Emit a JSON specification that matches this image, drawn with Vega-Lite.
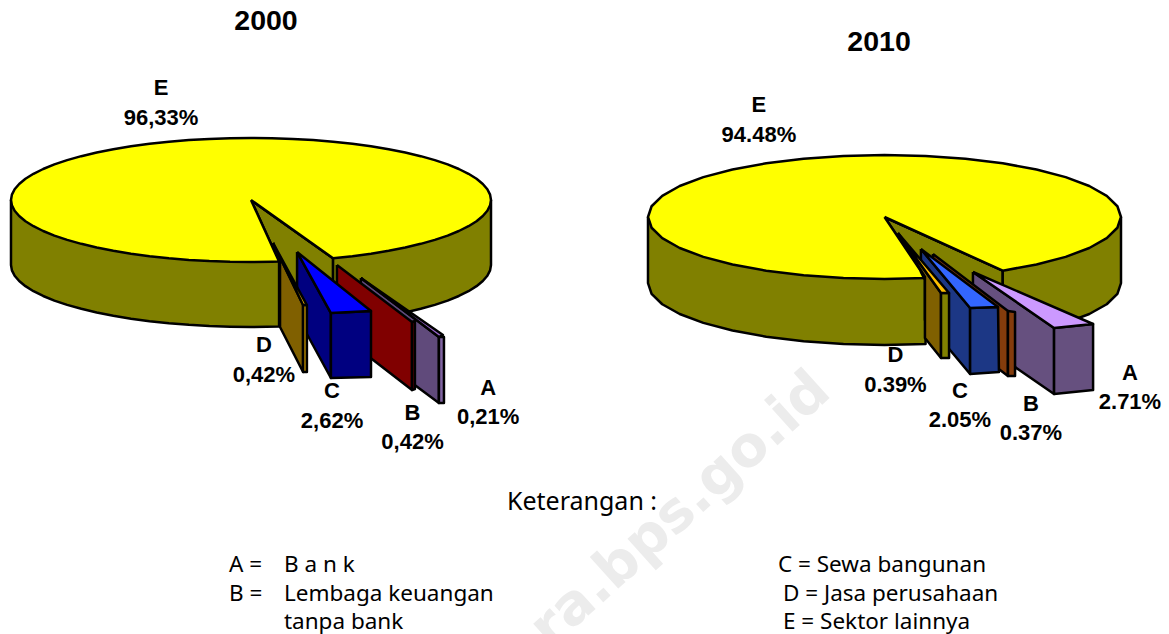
{"$schema":"https://vega.github.io/schema/vega-lite/v6.json","width":1169,"height":634,"padding":0,"autosize":{"type":"none"},"background":"white","view":{"stroke":null},"resolve":{"scale":{"x":"independent","y":"independent","color":"independent","size":"independent"}},"layer":[
{"data":{"values":[{"t":"ra.bps.go.id","x":58.2,"y":80.4}]},"mark":{"type":"text","font":"DejaVu Sans","fontWeight":"bold","fontSize":56,"angle":318,"color":"#ececec","align":"center","baseline":"middle"},"encoding":{"x":{"field":"x","type":"quantitative","scale":{"domain":[0,100]},"axis":null},"y":{"field":"y","type":"quantitative","scale":{"domain":[100,0]},"axis":null},"text":{"field":"t"}}},
{"data":{"values":[{"t":"Keterangan :","x":43.37,"y":79.18,"size":"head"},{"t":"A =","x":19.59,"y":89.12,"size":"line"},{"t":"B a n k","x":24.29,"y":89.12,"size":"line"},{"t":"B =","x":19.59,"y":93.69,"size":"line"},{"t":"Lembaga keuangan","x":24.29,"y":93.69,"size":"line"},{"t":"tanpa bank","x":24.29,"y":98.11,"size":"line"},{"t":"C = Sewa bangunan","x":66.55,"y":89.12,"size":"line"},{"t":"D = Jasa perusahaan","x":66.98,"y":93.69,"size":"line"},{"t":"E = Sektor lainnya","x":66.98,"y":98.11,"size":"line"}]},"mark":{"type":"text","font":"Noto Sans","color":"black","align":"left","baseline":"middle"},"encoding":{"x":{"field":"x","type":"quantitative","scale":{"domain":[0,100]},"axis":null},"y":{"field":"y","type":"quantitative","scale":{"domain":[100,0]},"axis":null},"text":{"field":"t"},"size":{"field":"size","type":"nominal","legend":null,"scale":{"domain":["head","line"],"range":[25,22.5]}}}},
{"data":{"values":[
{"p":"E inner","x":0,"y":0},{"p":"E inner","x":0.342,"y":-0.94},{"p":"E inner","x":0.342,"y":-1.988},{"p":"E inner","x":0,"y":-1.048},{"p":"E inner","x":0,"y":0},
{"p":"E wall L","x":-1,"y":0},{"p":"E wall L","x":-1,"y":-1.048},{"p":"E wall L","x":-0.9962,"y":-1.135},{"p":"E wall L","x":-0.9848,"y":-1.222},{"p":"E wall L","x":-0.9659,"y":-1.307},{"p":"E wall L","x":-0.9397,"y":-1.39},{"p":"E wall L","x":-0.9063,"y":-1.471},{"p":"E wall L","x":-0.866,"y":-1.548},{"p":"E wall L","x":-0.8192,"y":-1.622},{"p":"E wall L","x":-0.766,"y":-1.691},{"p":"E wall L","x":-0.7071,"y":-1.755},{"p":"E wall L","x":-0.6428,"y":-1.814},{"p":"E wall L","x":-0.5736,"y":-1.867},{"p":"E wall L","x":-0.5,"y":-1.914},{"p":"E wall L","x":-0.4226,"y":-1.954},{"p":"E wall L","x":-0.342,"y":-1.988},{"p":"E wall L","x":-0.2588,"y":-2.014},{"p":"E wall L","x":-0.1736,"y":-2.033},{"p":"E wall L","x":-0.0872,"y":-2.044},{"p":"E wall L","x":0,"y":-2.048},{"p":"E wall L","x":0.117,"y":-2.041},{"p":"E wall L","x":0.117,"y":-0.993},{"p":"E wall L","x":0,"y":0},{"p":"E wall L","x":-1,"y":0},
{"p":"E wall R","x":1,"y":0},{"p":"E wall R","x":1,"y":-1.048},{"p":"E wall R","x":0.9962,"y":-1.135},{"p":"E wall R","x":0.9848,"y":-1.222},{"p":"E wall R","x":0.9659,"y":-1.307},{"p":"E wall R","x":0.9397,"y":-1.39},{"p":"E wall R","x":0.9063,"y":-1.471},{"p":"E wall R","x":0.866,"y":-1.548},{"p":"E wall R","x":0.8192,"y":-1.622},{"p":"E wall R","x":0.766,"y":-1.691},{"p":"E wall R","x":0.7071,"y":-1.755},{"p":"E wall R","x":0.6428,"y":-1.814},{"p":"E wall R","x":0.5736,"y":-1.867},{"p":"E wall R","x":0.5,"y":-1.914},{"p":"E wall R","x":0.4226,"y":-1.954},{"p":"E wall R","x":0.342,"y":-1.988},{"p":"E wall R","x":0.342,"y":-0.94},{"p":"E wall R","x":0,"y":0},{"p":"E wall R","x":1,"y":0},
{"p":"E top","x":0,"y":0},{"p":"E top","x":0.342,"y":-0.9397},{"p":"E top","x":0.4226,"y":-0.9063},{"p":"E top","x":0.5,"y":-0.866},{"p":"E top","x":0.5736,"y":-0.8192},{"p":"E top","x":0.6428,"y":-0.766},{"p":"E top","x":0.7071,"y":-0.7071},{"p":"E top","x":0.766,"y":-0.6428},{"p":"E top","x":0.8192,"y":-0.5736},{"p":"E top","x":0.866,"y":-0.5},{"p":"E top","x":0.9063,"y":-0.4226},{"p":"E top","x":0.9397,"y":-0.342},{"p":"E top","x":0.9659,"y":-0.2588},{"p":"E top","x":0.9848,"y":-0.1736},{"p":"E top","x":0.9962,"y":-0.0872},{"p":"E top","x":1,"y":0},{"p":"E top","x":0.9962,"y":0.0872},{"p":"E top","x":0.9848,"y":0.1736},{"p":"E top","x":0.9659,"y":0.2588},{"p":"E top","x":0.9397,"y":0.342},{"p":"E top","x":0.9063,"y":0.4226},{"p":"E top","x":0.866,"y":0.5},{"p":"E top","x":0.8192,"y":0.5736},{"p":"E top","x":0.766,"y":0.6428},{"p":"E top","x":0.7071,"y":0.7071},{"p":"E top","x":0.6428,"y":0.766},{"p":"E top","x":0.5736,"y":0.8192},{"p":"E top","x":0.5,"y":0.866},{"p":"E top","x":0.4226,"y":0.9063},{"p":"E top","x":0.342,"y":0.9397},{"p":"E top","x":0.2588,"y":0.9659},{"p":"E top","x":0.1736,"y":0.9848},{"p":"E top","x":0.0872,"y":0.9962},{"p":"E top","x":0,"y":1},{"p":"E top","x":-0.0872,"y":0.9962},{"p":"E top","x":-0.1736,"y":0.9848},{"p":"E top","x":-0.2588,"y":0.9659},{"p":"E top","x":-0.342,"y":0.9397},{"p":"E top","x":-0.4226,"y":0.9063},{"p":"E top","x":-0.5,"y":0.866},{"p":"E top","x":-0.5736,"y":0.8192},{"p":"E top","x":-0.6428,"y":0.766},{"p":"E top","x":-0.7071,"y":0.7071},{"p":"E top","x":-0.766,"y":0.6428},{"p":"E top","x":-0.8192,"y":0.5736},{"p":"E top","x":-0.866,"y":0.5},{"p":"E top","x":-0.9063,"y":0.4226},{"p":"E top","x":-0.9397,"y":0.342},{"p":"E top","x":-0.9659,"y":0.2588},{"p":"E top","x":-0.9848,"y":0.1736},{"p":"E top","x":-0.9962,"y":0.0872},{"p":"E top","x":-1,"y":0},{"p":"E top","x":-0.9962,"y":-0.0872},{"p":"E top","x":-0.9848,"y":-0.1736},{"p":"E top","x":-0.9659,"y":-0.2588},{"p":"E top","x":-0.9397,"y":-0.342},{"p":"E top","x":-0.9063,"y":-0.4226},{"p":"E top","x":-0.866,"y":-0.5},{"p":"E top","x":-0.8192,"y":-0.5736},{"p":"E top","x":-0.766,"y":-0.6428},{"p":"E top","x":-0.7071,"y":-0.7071},{"p":"E top","x":-0.6428,"y":-0.766},{"p":"E top","x":-0.5736,"y":-0.8192},{"p":"E top","x":-0.5,"y":-0.866},{"p":"E top","x":-0.4226,"y":-0.9063},{"p":"E top","x":-0.342,"y":-0.9397},{"p":"E top","x":-0.2588,"y":-0.9659},{"p":"E top","x":-0.1736,"y":-0.9848},{"p":"E top","x":-0.0872,"y":-0.9962},{"p":"E top","x":0,"y":-1},{"p":"E top","x":0.0872,"y":-0.9962},{"p":"E top","x":0.117,"y":-0.993},{"p":"E top","x":0,"y":0},
{"p":"A side","x":0.458,"y":-1.258},{"p":"A side","x":0.783,"y":-2.21},{"p":"A side","x":0.783,"y":-3.274},{"p":"A side","x":0.458,"y":-2.339},{"p":"A side","x":0.458,"y":-1.258},
{"p":"A rim","x":0.783,"y":-2.21},{"p":"A rim","x":0.804,"y":-2.21},{"p":"A rim","x":0.804,"y":-3.274},{"p":"A rim","x":0.783,"y":-3.274},{"p":"A rim","x":0.783,"y":-2.21},
{"p":"A top","x":0.458,"y":-1.258},{"p":"A top","x":0.783,"y":-2.21},{"p":"A top","x":0.8,"y":-2.177},{"p":"A top","x":0.458,"y":-1.258},
{"p":"B side","x":0.358,"y":-1.048},{"p":"B side","x":0.671,"y":-1.968},{"p":"B side","x":0.671,"y":-3.065},{"p":"B side","x":0.358,"y":-2.129},{"p":"B side","x":0.358,"y":-1.048},
{"p":"B rim","x":0.671,"y":-1.968},{"p":"B rim","x":0.683,"y":-1.952},{"p":"B rim","x":0.683,"y":-3.048},{"p":"B rim","x":0.671,"y":-3.065},{"p":"B rim","x":0.671,"y":-1.968},
{"p":"C side","x":0.192,"y":-0.839},{"p":"C side","x":0.333,"y":-1.823},{"p":"C side","x":0.333,"y":-2.871},{"p":"C side","x":0.192,"y":-1.871},{"p":"C side","x":0.192,"y":-0.839},
{"p":"C front","x":0.333,"y":-1.823},{"p":"C front","x":0.5,"y":-1.79},{"p":"C front","x":0.5,"y":-2.855},{"p":"C front","x":0.333,"y":-2.871},{"p":"C front","x":0.333,"y":-1.823},
{"p":"C top","x":0.192,"y":-0.839},{"p":"C top","x":0.333,"y":-1.823},{"p":"C top","x":0.5,"y":-1.79},{"p":"C top","x":0.192,"y":-0.839},
{"p":"D side","x":0.092,"y":-0.694},{"p":"D side","x":0.217,"y":-1.694},{"p":"D side","x":0.217,"y":-2.774},{"p":"D side","x":0.121,"y":-2.048},{"p":"D side","x":0.121,"y":-0.935},{"p":"D side","x":0.092,"y":-0.694},
{"p":"D rim","x":0.217,"y":-1.694},{"p":"D rim","x":0.233,"y":-1.694},{"p":"D rim","x":0.233,"y":-2.774},{"p":"D rim","x":0.217,"y":-2.774},{"p":"D rim","x":0.217,"y":-1.694},
{"p":"D top","x":0.092,"y":-0.694},{"p":"D top","x":0.217,"y":-1.694},{"p":"D top","x":0.233,"y":-1.694},{"p":"D top","x":0.092,"y":-0.694}
]},"mark":{"type":"line","filled":true,"stroke":"black","strokeWidth":2.5,"strokeJoin":"round"},"encoding":{"order":{"value":null},"x":{"field":"x","type":"quantitative","sort":null,"scale":{"domain":[-1.0458,3.825]},"axis":null},"y":{"field":"y","type":"quantitative","sort":null,"scale":{"domain":[-7,3.2258]},"axis":null},"color":{"field":"p","type":"nominal","legend":null,"scale":{"domain":["E wall L","E wall R","E inner","E top","A side","A rim","A top","B side","B rim","C side","C front","C top","D side","D rim","D top"],"range":["#808000","#808000","#808000","#ffff00","#604a7b","#8064a2","#9966cc","#800000","#800000","#000080","#000080","#0000ff","#806000","#bf9000","#ffc000"]}}}},
{"data":{"values":[{"label":"2000","size":"title","x":0.0625,"y":2.887},{"label":"E\n96,33%","size":"label","x":-0.375,"y":1.806},{"label":"D\n0,42%","size":"label","x":0.054,"y":-2.339},{"label":"C\n2,62%","size":"label","x":0.3375,"y":-3.081},{"label":"B\n0,42%","size":"label","x":0.673,"y":-3.435},{"label":"A\n0,21%","size":"label","x":0.988,"y":-3.032}]},"mark":{"type":"text","font":"Liberation Sans","fontWeight":"bold","color":"black","align":"center","baseline":"middle","lineBreak":"\n","lineHeight":29.5},"encoding":{"x":{"field":"x","type":"quantitative","scale":{"domain":[-1.0458,3.825]},"axis":null},"y":{"field":"y","type":"quantitative","scale":{"domain":[-7,3.2258]},"axis":null},"text":{"field":"label"},"size":{"field":"size","type":"nominal","legend":null,"scale":{"domain":["title","label"],"range":[28.5,22]}}}},
{"data":{"values":[
{"p":"E inner","x":0,"y":0},{"p":"E inner","x":0.5,"y":-0.866},{"p":"E inner","x":0.5,"y":-1.931},{"p":"E inner","x":0,"y":-1.065},{"p":"E inner","x":0,"y":0},
{"p":"E wall L","x":-1,"y":0},{"p":"E wall L","x":-1,"y":-1.065},{"p":"E wall L","x":-0.9848,"y":-1.239},{"p":"E wall L","x":-0.9397,"y":-1.407},{"p":"E wall L","x":-0.866,"y":-1.565},{"p":"E wall L","x":-0.766,"y":-1.708},{"p":"E wall L","x":-0.6428,"y":-1.831},{"p":"E wall L","x":-0.5,"y":-1.931},{"p":"E wall L","x":-0.342,"y":-2.005},{"p":"E wall L","x":-0.1736,"y":-2.05},{"p":"E wall L","x":0,"y":-2.065},{"p":"E wall L","x":0.1736,"y":-2.05},{"p":"E wall L","x":0.1736,"y":-0.9848},{"p":"E wall L","x":0,"y":0},{"p":"E wall L","x":-1,"y":0},
{"p":"E wall R","x":1,"y":0},{"p":"E wall R","x":1,"y":-1.065},{"p":"E wall R","x":0.9848,"y":-1.239},{"p":"E wall R","x":0.9397,"y":-1.407},{"p":"E wall R","x":0.866,"y":-1.565},{"p":"E wall R","x":0.766,"y":-1.708},{"p":"E wall R","x":0.6428,"y":-1.831},{"p":"E wall R","x":0.5,"y":-1.931},{"p":"E wall R","x":0.5,"y":-0.866},{"p":"E wall R","x":0,"y":0},{"p":"E wall R","x":1,"y":0},
{"p":"E top","x":0,"y":0},{"p":"E top","x":0.5,"y":-0.866},{"p":"E top","x":0.6428,"y":-0.766},{"p":"E top","x":0.766,"y":-0.6428},{"p":"E top","x":0.866,"y":-0.5},{"p":"E top","x":0.9397,"y":-0.342},{"p":"E top","x":0.9848,"y":-0.1736},{"p":"E top","x":1,"y":0},{"p":"E top","x":0.9848,"y":0.1736},{"p":"E top","x":0.9397,"y":0.342},{"p":"E top","x":0.866,"y":0.5},{"p":"E top","x":0.766,"y":0.6428},{"p":"E top","x":0.6428,"y":0.766},{"p":"E top","x":0.5,"y":0.866},{"p":"E top","x":0.342,"y":0.9397},{"p":"E top","x":0.1736,"y":0.9848},{"p":"E top","x":0,"y":1},{"p":"E top","x":-0.1736,"y":0.9848},{"p":"E top","x":-0.342,"y":0.9397},{"p":"E top","x":-0.5,"y":0.866},{"p":"E top","x":-0.6428,"y":0.766},{"p":"E top","x":-0.766,"y":0.6428},{"p":"E top","x":-0.866,"y":0.5},{"p":"E top","x":-0.9397,"y":0.342},{"p":"E top","x":-0.9848,"y":0.1736},{"p":"E top","x":-1,"y":0},{"p":"E top","x":-0.9848,"y":-0.1736},{"p":"E top","x":-0.9397,"y":-0.342},{"p":"E top","x":-0.866,"y":-0.5},{"p":"E top","x":-0.766,"y":-0.6428},{"p":"E top","x":-0.6428,"y":-0.766},{"p":"E top","x":-0.5,"y":-0.866},{"p":"E top","x":-0.342,"y":-0.9397},{"p":"E top","x":-0.1736,"y":-0.9848},{"p":"E top","x":0,"y":-1},{"p":"E top","x":0.1736,"y":-0.9848},{"p":"E top","x":0,"y":0},
{"p":"A side","x":0.374,"y":-0.887},{"p":"A side","x":0.717,"y":-1.79},{"p":"A side","x":0.717,"y":-2.855},{"p":"A side","x":0.374,"y":-1.952},{"p":"A side","x":0.374,"y":-0.887},
{"p":"A front","x":0.717,"y":-1.79},{"p":"A front","x":0.882,"y":-1.726},{"p":"A front","x":0.882,"y":-2.79},{"p":"A front","x":0.717,"y":-2.855},{"p":"A front","x":0.717,"y":-1.79},
{"p":"A top","x":0.374,"y":-0.887},{"p":"A top","x":0.717,"y":-1.79},{"p":"A top","x":0.882,"y":-1.726},{"p":"A top","x":0.374,"y":-0.887},
{"p":"B side","x":0.205,"y":-0.597},{"p":"B side","x":0.522,"y":-1.516},{"p":"B side","x":0.522,"y":-2.565},{"p":"B side","x":0.205,"y":-1.645},{"p":"B side","x":0.205,"y":-0.597},
{"p":"B rim","x":0.522,"y":-1.516},{"p":"B rim","x":0.552,"y":-1.532},{"p":"B rim","x":0.552,"y":-2.565},{"p":"B rim","x":0.522,"y":-2.565},{"p":"B rim","x":0.522,"y":-1.516},
{"p":"C side","x":0.154,"y":-0.516},{"p":"C side","x":0.362,"y":-1.468},{"p":"C side","x":0.362,"y":-2.532},{"p":"C side","x":0.171,"y":-1.661},{"p":"C side","x":0.171,"y":-1.016},{"p":"C side","x":0.154,"y":-0.887},{"p":"C side","x":0.154,"y":-0.516},
{"p":"C front","x":0.362,"y":-1.468},{"p":"C front","x":0.48,"y":-1.452},{"p":"C front","x":0.484,"y":-2.5},{"p":"C front","x":0.362,"y":-2.532},{"p":"C front","x":0.362,"y":-1.468},
{"p":"C top","x":0.154,"y":-0.516},{"p":"C top","x":0.362,"y":-1.468},{"p":"C top","x":0.48,"y":-1.452},{"p":"C top","x":0.154,"y":-0.516},
{"p":"D side","x":0.057,"y":-0.258},{"p":"D side","x":0.239,"y":-1.226},{"p":"D side","x":0.239,"y":-2.274},{"p":"D side","x":0.171,"y":-1.952},{"p":"D side","x":0.171,"y":-0.968},{"p":"D side","x":0.057,"y":-0.258},
{"p":"D rim","x":0.239,"y":-1.226},{"p":"D rim","x":0.273,"y":-1.226},{"p":"D rim","x":0.273,"y":-2.274},{"p":"D rim","x":0.239,"y":-2.274},{"p":"D rim","x":0.239,"y":-1.226},
{"p":"D top","x":0.057,"y":-0.258},{"p":"D top","x":0.239,"y":-1.226},{"p":"D top","x":0.273,"y":-1.226},{"p":"D top","x":0.057,"y":-0.258}
]},"mark":{"type":"line","filled":true,"stroke":"black","strokeWidth":2.5,"strokeJoin":"round"},"encoding":{"order":{"value":null},"x":{"field":"x","type":"quantitative","sort":null,"scale":{"domain":[-3.74,1.203]},"axis":null},"y":{"field":"y","type":"quantitative","sort":null,"scale":{"domain":[-6.7258,3.5]},"axis":null},"color":{"field":"p","type":"nominal","legend":null,"scale":{"domain":["E wall L","E wall R","E inner","E top","A side","A front","A top","B side","B rim","C side","C front","C top","D side","D rim","D top"],"range":["#808000","#808000","#808000","#ffff00","#66507f","#66507f","#cc99ff","#843c0c","#843c0c","#1c3785","#1c3785","#3366ff","#806000","#808000","#ffc000"]}}}},
{"data":{"values":[{"label":"2010","size":"title","x":-0.023,"y":2.823},{"label":"E\n94.48%","size":"label","x":-0.531,"y":1.806},{"label":"D\n0.39%","size":"label","x":0.0465,"y":-2.226},{"label":"C\n2.05%","size":"label","x":0.319,"y":-2.806},{"label":"B\n0.37%","size":"label","x":0.619,"y":-3.016},{"label":"A\n2.71%","size":"label","x":1.038,"y":-2.516}]},"mark":{"type":"text","font":"Liberation Sans","fontWeight":"bold","color":"black","align":"center","baseline":"middle","lineBreak":"\n","lineHeight":29.5},"encoding":{"x":{"field":"x","type":"quantitative","scale":{"domain":[-3.74,1.203]},"axis":null},"y":{"field":"y","type":"quantitative","scale":{"domain":[-6.7258,3.5]},"axis":null},"text":{"field":"label"},"size":{"field":"size","type":"nominal","legend":null,"scale":{"domain":["title","label"],"range":[28.5,22]}}}}
]}
